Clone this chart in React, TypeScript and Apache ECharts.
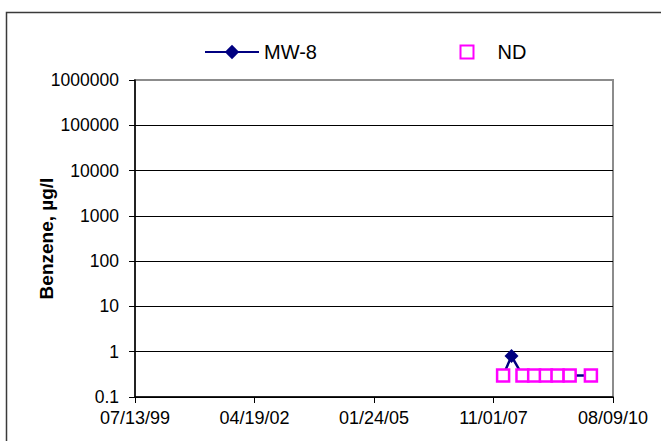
import React, { useEffect, useRef } from "react";
import * as echarts from "echarts";

const seriesNames = ["MW-8", "ND"];
const sampleDates = [
  "2008-01-22",
  "2008-04-02",
  "2008-07-04",
  "2008-10-11",
  "2009-01-18",
  "2009-04-27",
  "2009-08-07",
  "2010-02-03",
];
const mw8Values = [0.3, 0.8, 0.3, 0.3, 0.3, 0.3, 0.3, 0.3];
const ndValues: (number | null)[] = [0.3, null, 0.3, 0.3, 0.3, 0.3, 0.3, 0.3];
const xTickLabels = ["07/13/99", "04/19/02", "01/24/05", "11/01/07", "08/09/10"];
const yTickLabels = ["0.1", "1", "10", "100", "1000", "10000", "100000", "1000000"];

const axisStart = "1999-07-13";
const axisEnd = "2010-08-09";

function dayNum(s: string): number {
  const [y, m, d] = s.split("-").map(Number);
  return Date.UTC(y, m - 1, d) / 86400000;
}

const FONT = 'Arial, "Liberation Sans", sans-serif';

export default function App() {
  const ref = useRef<HTMLDivElement>(null);
  useEffect(() => {
    if (!ref.current) return;
    const chart = echarts.init(ref.current, null, { renderer: "svg" });
    const base = dayNum(axisStart);
    const span = dayNum(axisEnd) - base;
    const interval = span / (xTickLabels.length - 1);
    const xs = sampleDates.map((d) => dayNum(d) - base);

    const mw8Data = mw8Values.map((v, i) => ({
      value: [xs[i], v],
      symbol: ndValues[i] == null ? "diamond" : "none",
    }));
    const ndData = ndValues
      .map((v, i) => (v == null ? null : [xs[i], v]))
      .filter((p) => p != null);

    chart.setOption({
      animation: false,
      backgroundColor: "#ffffff",
      graphic: [
        {
          type: "rect",
          shape: { x: 6.5, y: 12.5, width: 720, height: 500 },
          style: { fill: "none", stroke: "#3a3a3a", lineWidth: 1.5 },
          silent: true,
        },
      ],
      grid: {
        left: 135,
        right: 48,
        top: 80,
        bottom: 44,
        show: true,
        borderColor: "#8c8c8c",
        borderWidth: 2,
        backgroundColor: "transparent",
      },
      legend: [
        {
          data: [seriesNames[0]],
          left: 204,
          top: 42,
          padding: 0,
          itemWidth: 54,
          itemHeight: 18,
          textStyle: { fontFamily: FONT, fontSize: 20, color: "#000" },
          selectedMode: false,
        },
        {
          data: [seriesNames[1]],
          left: 459.5,
          top: 42,
          padding: 0,
          itemWidth: 13,
          itemHeight: 13,
          textStyle: {
            fontFamily: FONT,
            fontSize: 20,
            color: "#000",
            padding: [0, 0, 0, 19],
          },
          selectedMode: false,
        },
      ],
      xAxis: {
        type: "value",
        min: 0,
        max: span,
        interval: interval,
        axisLine: { show: true, lineStyle: { color: "#000", width: 1.5 } },
        axisTick: { show: true, inside: false, length: 6, lineStyle: { color: "#000", width: 1 } },
        splitLine: { show: false },
        axisLabel: {
          margin: 12,
          fontFamily: FONT,
          fontSize: 18,
          color: "#000",
          formatter: (v: number) => xTickLabels[Math.round(v / interval)] ?? "",
        },
      },
      yAxis: {
        type: "log",
        logBase: 10,
        min: 0.1,
        max: 1000000,
        name: "Benzene, µg/l",
        nameLocation: "middle",
        nameRotate: 90,
        nameGap: 79,
        nameMoveOverlap: false,
        nameTextStyle: { fontFamily: FONT, fontSize: 19, fontWeight: "bold", color: "#000" },
        axisLine: { show: true, lineStyle: { color: "#000", width: 1.5 } },
        axisTick: { show: true, inside: false, length: 6, lineStyle: { color: "#000", width: 1 } },
        splitLine: { show: true, showMaxLine: false, lineStyle: { color: "#000", width: 1 } },
        axisLabel: {
          margin: 16,
          fontFamily: FONT,
          fontSize: 17.5,
          color: "#000",
          formatter: (v: number) => {
            const idx = Math.round(Math.log10(v)) + 1;
            return yTickLabels[idx] ?? "";
          },
        },
      },
      series: [
        {
          name: seriesNames[0],
          type: "line",
          data: mw8Data,
          symbol: "diamond",
          symbolSize: 14,
          lineStyle: { color: "#000080", width: 2.5 },
          itemStyle: { color: "#000080" },
          z: 2,
        },
        {
          name: seriesNames[1],
          type: "scatter",
          data: ndData,
          symbol: "rect",
          symbolSize: 12,
          itemStyle: { color: "#ffffff", borderColor: "#ff00ff", borderWidth: 2.5, opacity: 1 },
          z: 3,
        },
      ],
    });
    return () => chart.dispose();
  }, []);
  return (
    <div
      ref={ref}
      style={{ position: "fixed", left: 0, top: 0, width: 661, height: 441 }}
    />
  );
}
